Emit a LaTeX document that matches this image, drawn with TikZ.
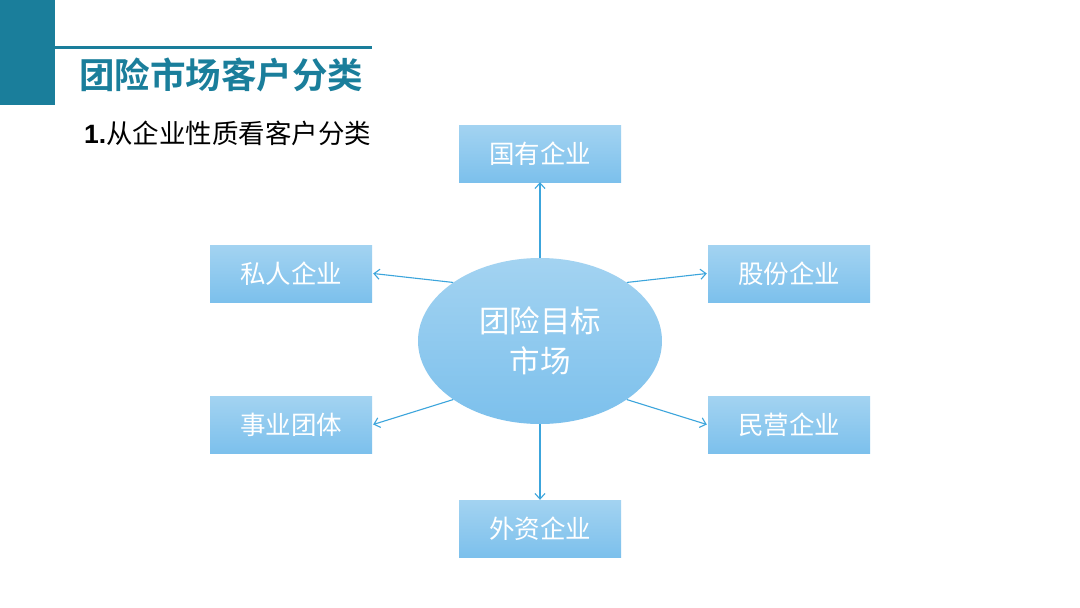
\documentclass[tikz,border=0pt]{standalone}
\usepackage{fontspec}
\setmainfont{Liberation Sans}
\newfontfamily\cjk{Noto Sans CJK SC}
\newfontfamily\cjkb{Noto Sans CJK SC Bold}
\usetikzlibrary{arrows.meta,shapes.geometric}
\definecolor{teal1}{HTML}{1A7E9B}
\definecolor{boxtop}{HTML}{A3D3F1}
\definecolor{boxbot}{HTML}{7CC0EC}
\definecolor{arrowc}{HTML}{3CA5DC}
\tikzset{
  catbox/.style={rectangle, minimum width=162pt, minimum height=57pt, inner sep=0pt,
    top color=boxtop, bottom color=boxbot, draw=none, text=white,
    font=\cjk\fontsize{25.5}{30}\selectfont},
  hub/.style={ellipse, minimum width=244pt, minimum height=166pt, inner sep=0pt,
    top color=boxtop, bottom color=boxbot, draw=none, text=white, align=center,
    font=\cjk\fontsize{30.5}{40}\selectfont},
  conn/.style={draw=arrowc, line width=1.1pt, -{Straight Barb[length=5.5pt,width=10pt,line width=1.1pt]}}
}
\begin{document}
\begin{tikzpicture}[x=1pt,y=-1pt]
\useasboundingbox (0,0) rectangle (1080,608);
\fill[white] (0,0) rectangle (1080,608);
% header
\fill[teal1] (0,0) rectangle (55,105);
\fill[teal1] (55,45.5) rectangle (372,48.5);
\node[anchor=west, text=teal1, inner sep=0pt, font=\cjkb\fontsize{35.5}{40}\selectfont] (title) at (79,75) {团险市场客户分类};
\node[anchor=west, text=black, inner sep=0pt, font=\cjk\fontsize{26.5}{30}\selectfont] (sub) at (84,133) {{\fontspec{Liberation Sans Bold}1.}从企业性质看客户分类};
% hub
\node[hub] (hub) at (540,341) {团险目标\\市场};
% boxes
\node[catbox] (gy) at (540,153.5) {国有企业};
\node[catbox] (sr) at (291,273.5) {私人企业};
\node[catbox] (gf) at (789,273.5) {股份企业};
\node[catbox] (sy) at (291,424.5) {事业团体};
\node[catbox] (my) at (789,424.5) {民营企业};
\node[catbox] (wz) at (540,528.5) {外资企业};
% connectors
\draw[conn] (hub.north) -- (gy.south);
\draw[conn] (hub.146) -- ([xshift=1pt]sr.east);
\draw[conn] (hub.34) -- ([xshift=-1pt]gf.west);
\draw[conn] (hub.214) -- ([xshift=1pt]sy.east);
\draw[conn] (hub.-34) -- ([xshift=-1pt]my.west);
\draw[conn] (hub.south) -- (wz.north);
\end{tikzpicture}
\end{document}
